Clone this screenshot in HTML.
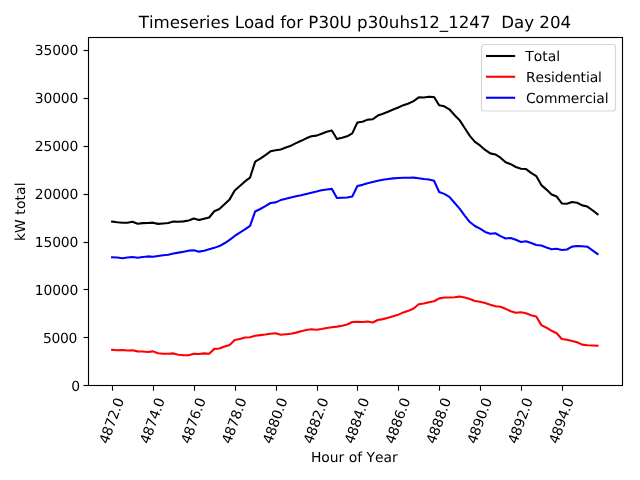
<!DOCTYPE html>
<html lang="en"><head><meta charset="utf-8"><title>Timeseries Load</title>
<style>html,body{margin:0;padding:0;background:#fff;overflow:hidden}svg text{text-rendering:geometricPrecision;font-kerning:none}</style></head>
<body>
<svg width="640" height="480" viewBox="0 0 640 480" style="display:block">
<rect width="640" height="480" fill="#fff"/>
<g font-family="'DejaVu Sans', 'Liberation Sans', sans-serif" font-size="13.889" fill="#000">
<g fill="none" stroke-width="2.083" stroke-linejoin="round" stroke-linecap="square">
<polyline stroke="#000" points="112.07,221.63 117.18,222.33 122.29,222.70 127.40,222.67 132.51,221.83 137.62,223.68 142.73,223.12 147.84,222.92 152.95,222.65 158.07,223.87 163.18,223.47 168.29,223.07 173.40,221.50 178.51,221.81 183.62,221.38 188.73,220.45 193.84,218.48 198.95,220.06 204.06,218.70 209.17,217.53 214.28,211.23 219.39,209.02 224.50,204.33 229.61,199.38 234.72,190.45 239.84,186.08 244.95,181.43 250.06,177.55 255.17,161.65 260.28,158.65 265.39,155.10 270.50,151.30 275.61,150.22 280.72,149.42 285.83,147.45 290.94,145.65 296.05,143.18 301.16,140.82 306.27,138.32 311.38,136.32 316.49,135.62 321.60,133.72 326.72,131.78 331.83,130.52 336.94,138.97 342.05,137.85 347.16,136.35 352.27,133.33 357.38,122.57 362.49,121.68 367.60,119.62 372.71,119.25 377.82,115.60 382.93,113.82 388.04,111.75 393.15,109.55 398.26,107.52 403.37,105.15 408.48,103.52 413.60,101.12 418.71,97.38 423.82,97.58 428.93,96.82 434.04,96.98 439.15,105.28 444.26,106.34 449.37,109.31 454.48,115.05 459.59,120.15 464.70,128.02 469.81,135.93 474.92,141.88 480.03,145.42 485.14,149.92 490.25,153.38 495.36,154.42 500.48,157.68 505.59,162.27 510.70,164.20 515.81,167.00 520.92,168.72 526.03,169.06 531.14,172.83 536.25,176.03 541.36,185.10 546.47,189.60 551.58,194.43 556.69,196.57 561.80,203.42 566.91,203.80 572.02,202.00 577.13,202.73 582.25,205.37 587.36,206.57 592.47,210.23 597.58,214.23"/>
<polyline stroke="#f00" points="112.07,349.82 117.18,350.27 122.29,350.00 127.40,350.58 132.51,350.27 137.62,351.37 142.73,351.53 147.84,352.01 152.95,351.35 158.07,353.33 163.18,353.73 168.29,353.73 173.40,353.40 178.51,354.71 183.62,355.23 188.73,355.30 193.84,353.67 198.95,353.92 204.06,353.40 209.17,353.72 214.28,348.87 219.39,348.43 224.50,346.57 229.61,344.97 234.72,340.00 239.84,339.07 244.95,337.47 250.06,337.20 255.17,335.70 260.28,335.15 265.39,334.55 270.50,333.80 275.61,333.33 280.72,334.83 285.83,334.20 290.94,333.70 296.05,332.62 301.16,331.28 306.27,329.98 311.38,329.28 316.49,329.68 321.60,329.08 326.72,328.02 331.83,327.28 336.94,326.63 342.05,325.75 347.16,324.55 352.27,321.97 357.38,321.83 362.49,322.02 367.60,321.48 372.71,322.45 377.82,320.05 382.93,319.13 388.04,317.80 393.15,316.20 398.26,314.63 403.37,312.40 408.48,310.83 413.60,308.53 418.71,304.27 423.82,303.57 428.93,302.33 434.04,301.27 439.15,298.37 444.26,297.51 449.37,297.54 454.48,297.30 459.59,296.60 464.70,297.53 469.81,298.97 474.92,300.97 480.03,301.83 485.14,303.03 490.25,304.77 495.36,306.23 500.48,306.67 505.59,308.83 510.70,311.27 515.81,312.70 520.92,312.23 526.03,313.24 531.14,315.27 536.25,316.47 541.36,325.10 546.47,327.70 551.58,330.77 556.69,333.28 561.80,338.93 566.91,339.80 572.02,340.90 577.13,342.27 582.25,344.63 587.36,345.33 592.47,345.47 597.58,345.77"/>
<polyline stroke="#00f" points="112.07,257.32 117.18,257.57 122.29,258.20 127.40,257.58 132.51,257.07 137.62,257.82 142.73,257.08 147.84,256.41 152.95,256.80 158.07,256.03 163.18,255.23 168.29,254.83 173.40,253.60 178.51,252.61 183.62,251.65 188.73,250.65 193.84,250.32 198.95,251.64 204.06,250.80 209.17,249.32 214.28,247.87 219.39,246.08 224.50,243.27 229.61,239.92 234.72,235.95 239.84,232.52 244.95,229.47 250.06,225.85 255.17,211.45 260.28,209.00 265.39,206.05 270.50,203.00 275.61,202.38 280.72,200.08 285.83,198.75 290.94,197.45 296.05,196.22 301.16,195.18 306.27,193.98 311.38,192.68 316.49,191.58 321.60,190.28 326.72,189.42 331.83,188.88 336.94,197.98 342.05,197.75 347.16,197.45 352.27,196.57 357.38,185.93 362.49,184.87 367.60,183.33 372.71,182.00 377.82,180.75 382.93,179.73 388.04,179.00 393.15,178.40 398.26,177.93 403.37,177.80 408.48,177.73 413.60,177.63 418.71,178.17 423.82,179.07 428.93,179.53 434.04,180.77 439.15,191.97 444.26,193.88 449.37,196.82 454.48,202.80 459.59,208.60 464.70,215.53 469.81,222.02 474.92,225.97 480.03,228.63 485.14,231.93 490.25,233.67 495.36,233.23 500.48,236.07 505.59,238.48 510.70,237.97 515.81,239.80 520.92,241.98 526.03,241.32 531.14,243.07 536.25,245.07 541.36,245.50 546.47,247.40 551.58,249.17 556.69,248.78 561.80,249.98 566.91,249.50 572.02,246.60 577.13,245.97 582.25,246.23 587.36,246.73 592.47,250.27 597.58,253.97"/>
</g>
<rect x="88.5" y="37.5" width="534.0" height="348.0" fill="none" stroke="#000" stroke-width="1.11"/>
<line x1="112.5" y1="385.5" x2="112.5" y2="390.70" stroke="#000" stroke-width="1.11"/>
<text transform="translate(112.47,421.05) rotate(-70)" text-anchor="middle" y="3.8" textLength="47.8">4872.0</text>
<line x1="153.5" y1="385.5" x2="153.5" y2="390.70" stroke="#000" stroke-width="1.11"/>
<text transform="translate(153.36,421.05) rotate(-70)" text-anchor="middle" y="3.8" textLength="47.8">4874.0</text>
<line x1="194.5" y1="385.5" x2="194.5" y2="390.70" stroke="#000" stroke-width="1.11"/>
<text transform="translate(194.25,421.05) rotate(-70)" text-anchor="middle" y="3.8" textLength="47.8">4876.0</text>
<line x1="235.5" y1="385.5" x2="235.5" y2="390.70" stroke="#000" stroke-width="1.11"/>
<text transform="translate(235.14,421.05) rotate(-70)" text-anchor="middle" y="3.8" textLength="47.8">4878.0</text>
<line x1="276.5" y1="385.5" x2="276.5" y2="390.70" stroke="#000" stroke-width="1.11"/>
<text transform="translate(276.03,421.05) rotate(-70)" text-anchor="middle" y="3.8" textLength="47.8">4880.0</text>
<line x1="317.5" y1="385.5" x2="317.5" y2="390.70" stroke="#000" stroke-width="1.11"/>
<text transform="translate(316.92,421.05) rotate(-70)" text-anchor="middle" y="3.8" textLength="47.8">4882.0</text>
<line x1="357.5" y1="385.5" x2="357.5" y2="390.70" stroke="#000" stroke-width="1.11"/>
<text transform="translate(357.81,421.05) rotate(-70)" text-anchor="middle" y="3.8" textLength="47.8">4884.0</text>
<line x1="398.5" y1="385.5" x2="398.5" y2="390.70" stroke="#000" stroke-width="1.11"/>
<text transform="translate(398.70,421.05) rotate(-70)" text-anchor="middle" y="3.8" textLength="47.8">4886.0</text>
<line x1="439.5" y1="385.5" x2="439.5" y2="390.70" stroke="#000" stroke-width="1.11"/>
<text transform="translate(439.59,421.05) rotate(-70)" text-anchor="middle" y="3.8" textLength="47.8">4888.0</text>
<line x1="480.5" y1="385.5" x2="480.5" y2="390.70" stroke="#000" stroke-width="1.11"/>
<text transform="translate(480.48,421.05) rotate(-70)" text-anchor="middle" y="3.8" textLength="47.8">4890.0</text>
<line x1="521.5" y1="385.5" x2="521.5" y2="390.70" stroke="#000" stroke-width="1.11"/>
<text transform="translate(521.37,421.05) rotate(-70)" text-anchor="middle" y="3.8" textLength="47.8">4892.0</text>
<line x1="562.5" y1="385.5" x2="562.5" y2="390.70" stroke="#000" stroke-width="1.11"/>
<text transform="translate(562.26,421.05) rotate(-70)" text-anchor="middle" y="3.8" textLength="47.8">4894.0</text>
<line x1="83.50" y1="385.5" x2="88.5" y2="385.5" stroke="#000" stroke-width="1.11"/>
<text x="80.20" y="390.60" text-anchor="end">0</text>
<line x1="83.50" y1="337.5" x2="88.5" y2="337.5" stroke="#000" stroke-width="1.11"/>
<text x="77.40" y="342.70" text-anchor="end" textLength="34.3">5000</text>
<line x1="83.50" y1="289.5" x2="88.5" y2="289.5" stroke="#000" stroke-width="1.11"/>
<text x="78.30" y="294.80" text-anchor="end" textLength="43.5">10000</text>
<line x1="83.50" y1="242.5" x2="88.5" y2="242.5" stroke="#000" stroke-width="1.11"/>
<text x="78.30" y="246.90" text-anchor="end" textLength="43.5">15000</text>
<line x1="83.50" y1="194.5" x2="88.5" y2="194.5" stroke="#000" stroke-width="1.11"/>
<text x="78.30" y="199.00" text-anchor="end" textLength="43.5">20000</text>
<line x1="83.50" y1="146.5" x2="88.5" y2="146.5" stroke="#000" stroke-width="1.11"/>
<text x="78.30" y="151.10" text-anchor="end" textLength="43.5">25000</text>
<line x1="83.50" y1="98.5" x2="88.5" y2="98.5" stroke="#000" stroke-width="1.11"/>
<text x="78.30" y="103.20" text-anchor="end" textLength="43.5">30000</text>
<line x1="83.50" y1="50.5" x2="88.5" y2="50.5" stroke="#000" stroke-width="1.11"/>
<text x="78.30" y="55.30" text-anchor="end" textLength="43.5">35000</text>
<text x="354.3" y="461.8" text-anchor="middle">Hour of Year</text>
<text transform="translate(25.3,211.8) rotate(-90)" text-anchor="middle" textLength="58.6">kW total</text>
<text x="354.95" y="28.25" text-anchor="middle" font-size="16.667" xml:space="preserve">Timeseries Load for P30U p30uhs12_1247  Day 204</text>
<rect x="481.5" y="44.5" width="134" height="66.5" rx="2.8" ry="2.8" fill="#fff" fill-opacity="0.8" stroke="#ccc" stroke-opacity="0.8" stroke-width="1.15"/>
<line x1="487.06" y1="56" x2="514.1" y2="56" stroke="#000" stroke-width="2.083" stroke-linecap="square"/>
<text x="525.35" y="60.85">Total</text>
<line x1="487.06" y1="76.75" x2="514.1" y2="76.75" stroke="#f00" stroke-width="2.083" stroke-linecap="square"/>
<text x="525.95" y="81.60" textLength="76.0">Residential</text>
<line x1="487.06" y1="97.75" x2="514.1" y2="97.75" stroke="#00f" stroke-width="2.083" stroke-linecap="square"/>
<text x="525.95" y="102.60" textLength="82.6">Commercial</text>
</g></svg>
</body></html>
